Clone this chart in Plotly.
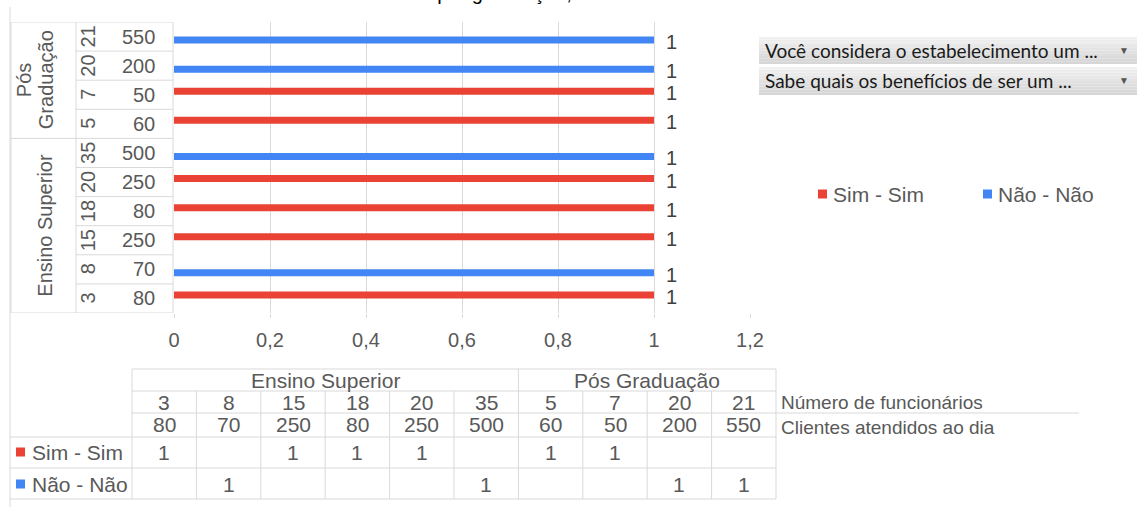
import plotly.graph_objects as go

# ---- data -------------------------------------------------------------
escolaridade = ["Ensino Superior"] * 6 + ["Pós Graduação"] * 4
funcionarios = [3, 8, 15, 18, 20, 35, 5, 7, 20, 21]
clientes = [80, 70, 250, 80, 250, 500, 60, 50, 200, 550]
sim_sim = [1, None, 1, 1, 1, None, 1, 1, None, None]
nao_nao = [None, 1, None, None, None, 1, None, None, 1, 1]
x_ticks = [0, 0.2, 0.4, 0.6, 0.8, 1, 1.2]

series_names = ["Sim - Sim", "Não - Não"]
RED = "#EA4335"
BLUE = "#4285F4"

titulo = ("Gráfico 10 – Grau de escolaridade por graduação, número de "
          "funcionários e clientes atendidos ao dia")
botoes = ["Você considera o estabelecimento um ...",
          "Sabe quais os benefícios de ser um ..."]
rotulo_func = "Número de funcionários"
rotulo_cli = "Clientes atendidos ao dia"

# ---- geometry helpers (pixel -> paper) --------------------------------
FIG_W, FIG_H = 1137, 507
L, R, T, B = 174, 750, 22, 313
PW, PH = R - L, B - T


def px(p):
    return (p - L) / PW


def py(p):
    return (B - p) / PH


FONT = "Liberation Sans, Arial, sans-serif"
GRAY = "#595959"
LINE = "#d9d9d9"

cats = [f"{e}|{f}|{c}" for e, f, c in zip(escolaridade, funcionarios, clientes)]
n = len(cats)

fig = go.Figure()
# Não - Não first so it sits in the lower slot of each group
for name, vals, col in [(series_names[1], nao_nao, BLUE), (series_names[0], sim_sim, RED)]:
    fig.add_trace(go.Bar(
        x=vals, y=cats, orientation="h", name=name,
        marker=dict(color=col, line=dict(width=0)),
        showlegend=False,
    ))

shapes = []
annotations = []


def hline(x0, x1, y0, xref="paper", yref="paper", color=LINE):
    shapes.append(dict(type="line", xref=xref, yref=yref, x0=x0, x1=x1, y0=y0, y1=y0,
                       line=dict(color=color, width=1)))


def vline(x0, y0, y1, xref="paper", yref="paper", color=LINE):
    shapes.append(dict(type="line", xref=xref, yref=yref, x0=x0, x1=x0, y0=y0, y1=y1,
                       line=dict(color=color, width=1)))


def text(t, x, y, size=20, color=GRAY, xanchor="center", yanchor="middle",
         angle=0, xref="paper", yref="paper", family=FONT, **kw):
    annotations.append(dict(text=t, x=x, y=y, xref=xref, yref=yref, showarrow=False,
                            xanchor=xanchor, yanchor=yanchor, textangle=angle,
                            font=dict(size=size, color=color, family=family), **kw))


# chart border (left edge)
vline(px(10), py(7), py(507))

# title (runs off the top edge of the chart area)
text(titulo, px(578), py(6), size=20, color="#000000", yanchor="bottom")

# ---- category label box on the left ------------------------------------
xb0, xb1, xb2 = px(11), px(76), px(173)
for k in range(n + 1):
    yk = k - 0.5
    if k in (0, n, 6):
        hline(xb0, xb2, yk, yref="y")
    else:
        hline(xb1, xb2, yk, yref="y")
for xv in (xb0, xb1, xb2):
    vline(xv, -0.5, n - 0.5, yref="y")

for i, cat in enumerate(cats):
    text(str(clientes[i]), px(157), cat, xanchor="right", yref="y")
    text(str(funcionarios[i]), px(88), cat, angle=-90, yref="y")

# outer level
text("Ensino Superior", px(45), 2.5, angle=-90, yref="y")
text("Pós", px(24), 7.5, angle=-90, yref="y")
text("Graduação", px(46), 7.5, angle=-90, yref="y")

# value labels next to bar ends
for vals, off in [(nao_nao, -0.12), (sim_sim, 0.12)]:
    for i, v in enumerate(vals):
        if v is not None:
            text(f"{v:g}", v, i + off, xref="x", yref="y", xanchor="left",
                 xshift=10, yshift=-2, color="#404040")

# ---- field buttons -----------------------------------------------------
for k, (lbl, (y0, y1)) in enumerate(zip(botoes, [(37, 64), (67, 95)])):
    bands = 10
    for b in range(bands):
        t0 = y0 + (y1 - y0) * b / bands
        t1 = y0 + (y1 - y0) * (b + 1) / bands
        g = int(0xF0 - (0xF0 - 0xD6) * b / (bands - 1))
        shapes.append(dict(type="rect", xref="paper", yref="paper",
                           x0=px(759), x1=px(1137), y0=py(t1), y1=py(t0),
                           fillcolor=f"rgb({g},{g},{g})", line=dict(width=0), layer="above"))
    text(lbl, px(763), py((y0 + y1) / 2), size=19, color="#1a1a1a", xanchor="left",
         family="Lato, sans-serif")
    text("▼", px(1124), py((y0 + y1) / 2), size=10, color="#555555")

# ---- legend --------------------------------------------------------------
leg_y = 194
for name, col, sx, tx in [(series_names[0], RED, 818, 831), (series_names[1], BLUE, 983, 996)]:
    shapes.append(dict(type="rect", xref="paper", yref="paper",
                       x0=px(sx), x1=px(sx + 9), y0=py(leg_y + 4.5), y1=py(leg_y - 4.5),
                       fillcolor=col, line=dict(width=0)))
    text(name, px(tx), py(leg_y), size=21, xanchor="left")

# ---- data table below the chart -------------------------------------------
c0, cw = 132, 64.4
col_x = [c0 + k * cw for k in range(n + 1)]
rows = [369, 391, 413, 437, 468, 499]
tab_r = col_x[-1]

hline(px(c0), px(tab_r), py(rows[0]))
hline(px(c0), px(tab_r), py(rows[1]))
hline(px(c0), px(1079), py(rows[2]))
for r in rows[3:]:
    hline(px(10), px(tab_r), py(r))
for k, xv in enumerate(col_x):
    top = rows[0] if k in (0, 6, n) else rows[1]
    vline(px(xv), py(top), py(rows[-1]))

text("Ensino Superior", px((col_x[0] + col_x[6]) / 2), py(380), size=21)
text("Pós Graduação", px((col_x[6] + col_x[n]) / 2), py(380), size=21)
for i in range(n):
    cx = px((col_x[i] + col_x[i + 1]) / 2)
    text(str(funcionarios[i]), cx, py(402), size=21)
    text(str(clientes[i]), cx, py(424), size=21)
    if sim_sim[i] is not None:
        text(f"{sim_sim[i]:g}", cx, py(452), size=21)
    if nao_nao[i] is not None:
        text(f"{nao_nao[i]:g}", cx, py(484), size=21)

for name, col, ymid in [(series_names[0], RED, 452), (series_names[1], BLUE, 484)]:
    shapes.append(dict(type="rect", xref="paper", yref="paper",
                       x0=px(16), x1=px(25), y0=py(ymid + 4.5), y1=py(ymid - 4.5),
                       fillcolor=col, line=dict(width=0)))
    text(name, px(30), py(ymid), size=21, xanchor="left")

text(rotulo_func, px(779), py(402), size=19, xanchor="left")
text(rotulo_cli, px(779), py(427), size=19, xanchor="left")

fig.update_layout(
    width=FIG_W, height=FIG_H,
    margin=dict(l=L, r=FIG_W - R, t=T, b=FIG_H - B, pad=0),
    paper_bgcolor="white", plot_bgcolor="white",
    barmode="group", bargap=0.52, bargroupgap=0,
    separators=",.",
    font=dict(family=FONT, color=GRAY, size=20),
    xaxis=dict(range=[0, 1.2], tickvals=x_ticks, showgrid=True, gridcolor=LINE,
               gridwidth=1, zeroline=False, showline=False, ticks="outside",
               ticklen=4, tickcolor=LINE, ticklabelstandoff=5,
               tickfont=dict(size=20, color=GRAY)),
    yaxis=dict(type="category", categoryarray=cats, range=[-0.5, n - 0.5],
               showticklabels=False, showgrid=False, zeroline=False, showline=False),
    shapes=shapes, annotations=annotations, showlegend=False,
)

fig.write_html("out.html")
